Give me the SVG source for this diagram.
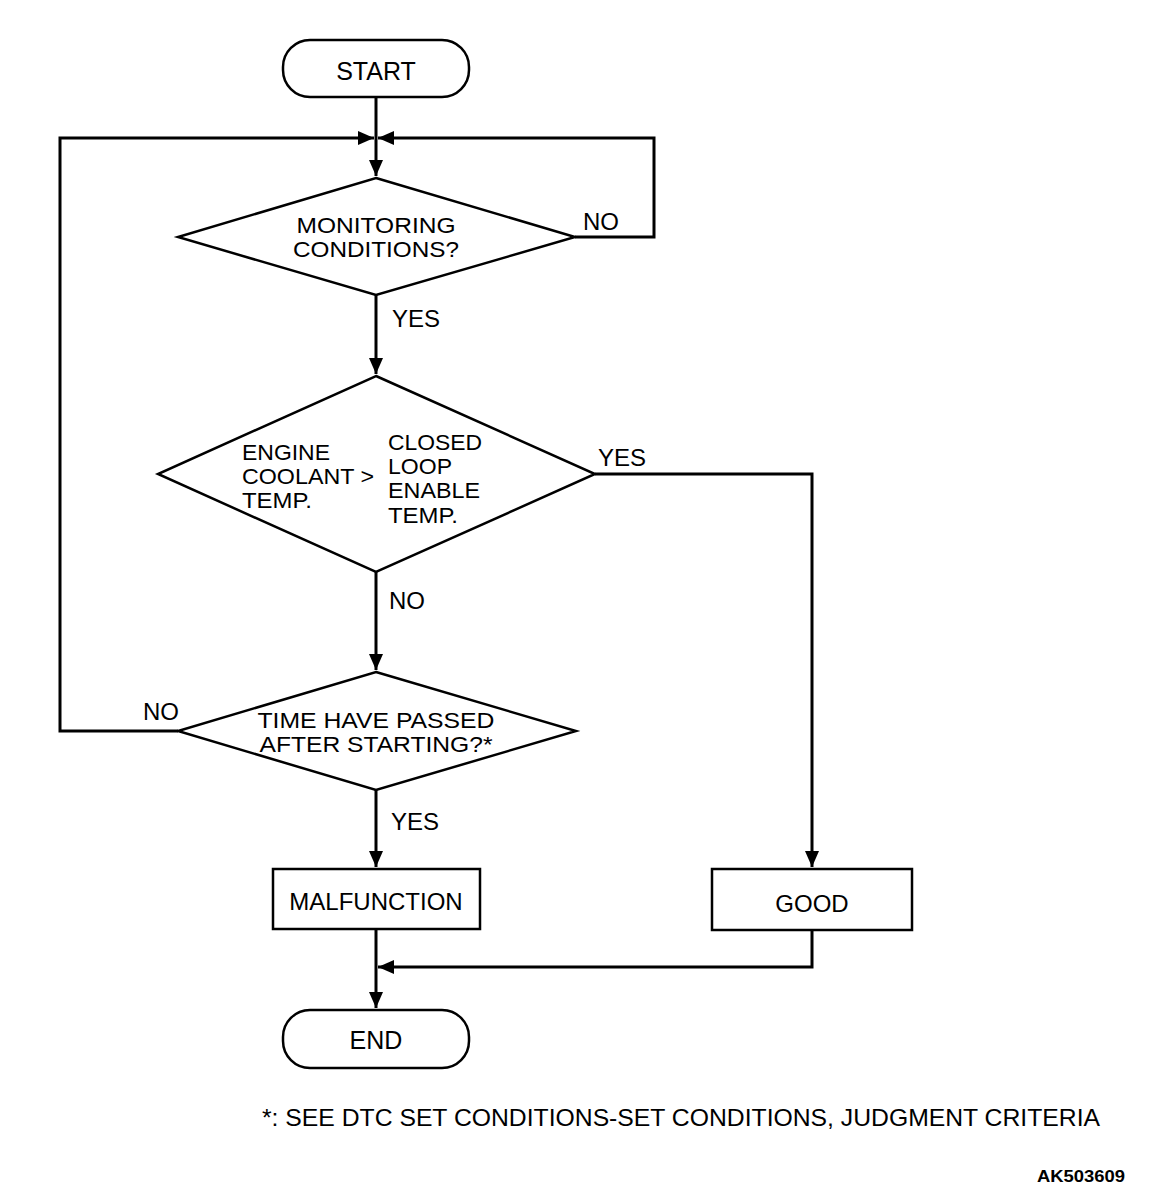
<svg xmlns="http://www.w3.org/2000/svg" width="1152" height="1202" viewBox="0 0 1152 1202">
<style>
text{font-family:"Liberation Sans",Arial,sans-serif;font-size:24px;fill:#000}
.m{font-size:21.5px}
.c{text-anchor:middle}
.shape{fill:#fff;stroke:#000;stroke-width:2.5}
.ln{fill:none;stroke:#000;stroke-width:3}
</style>
<defs>
<marker id="ah" markerUnits="userSpaceOnUse" markerWidth="18" markerHeight="14" refX="16" refY="7" orient="auto">
<path d="M0,0 L16,7 L0,14 Z" fill="#000"/>
</marker>
</defs>
<rect width="1152" height="1202" fill="#fff"/>
<g id="connectors">
<path class="ln" d="M376,97 V176" marker-end="url(#ah)"/>
<path class="ln" d="M575,237 H654 V138 H378" marker-end="url(#ah)"/>
<path class="ln" d="M178,731 H60 V138 H374" marker-end="url(#ah)"/>
<path class="ln" d="M376,295 V374" marker-end="url(#ah)"/>
<path class="ln" d="M595,474 H812 V867" marker-end="url(#ah)"/>
<path class="ln" d="M376,572 V670" marker-end="url(#ah)"/>
<path class="ln" d="M376,790 V867" marker-end="url(#ah)"/>
<path class="ln" d="M376,929 V1008" marker-end="url(#ah)"/>
<path class="ln" d="M812,930 V967 H378" marker-end="url(#ah)"/>
</g>
<g id="labels">
<text x="583" y="230">NO</text>
<text x="392" y="327">YES</text>
<text x="598" y="466">YES</text>
<text x="389" y="609">NO</text>
<text x="143" y="720">NO</text>
<text x="391" y="830">YES</text>
</g>
<g id="start">
<rect class="shape" x="283" y="40" width="186" height="57" rx="27" ry="27"/>
<text class="c" x="376" y="80" style="font-size:25px">START</text>
</g>
<g id="monitoring">
<polygon class="shape" points="376,178 575,237 376,295 178,237"/>
<text class="c m" x="376" y="233" textLength="159" lengthAdjust="spacingAndGlyphs">MONITORING</text>
<text class="c m" x="376" y="257" textLength="166" lengthAdjust="spacingAndGlyphs">CONDITIONS?</text>
</g>
<g id="coolant">
<polygon class="shape" points="376,376 595,474 376,572 158,474"/>
<text class="m" x="242" y="460" textLength="88" lengthAdjust="spacingAndGlyphs">ENGINE</text>
<text class="m" x="242" y="484" textLength="132" lengthAdjust="spacingAndGlyphs">COOLANT &gt;</text>
<text class="m" x="242" y="508" textLength="70" lengthAdjust="spacingAndGlyphs">TEMP.</text>
<text class="m" x="388" y="450" textLength="94" lengthAdjust="spacingAndGlyphs">CLOSED</text>
<text class="m" x="388" y="474" textLength="64" lengthAdjust="spacingAndGlyphs">LOOP</text>
<text class="m" x="388" y="498" textLength="92" lengthAdjust="spacingAndGlyphs">ENABLE</text>
<text class="m" x="388" y="523" textLength="70" lengthAdjust="spacingAndGlyphs">TEMP.</text>
</g>
<g id="time">
<polygon class="shape" points="376,672 576,731 376,790 178,731"/>
<text class="c m" x="376" y="728" textLength="237" lengthAdjust="spacingAndGlyphs">TIME HAVE PASSED</text>
<text class="c m" x="376" y="752" textLength="233" lengthAdjust="spacingAndGlyphs">AFTER STARTING?*</text>
</g>
<g id="malfunction">
<rect class="shape" x="273" y="869" width="207" height="60"/>
<text class="c" x="376" y="910">MALFUNCTION</text>
</g>
<g id="good">
<rect class="shape" x="712" y="869" width="200" height="61"/>
<text class="c" x="812" y="912">GOOD</text>
</g>
<g id="end">
<rect class="shape" x="283" y="1010" width="186" height="58" rx="27" ry="27"/>
<text class="c" x="376" y="1049" style="font-size:25px">END</text>
</g>
<g id="notes">
<text x="262" y="1126" textLength="838" lengthAdjust="spacingAndGlyphs">*: SEE DTC SET CONDITIONS-SET CONDITIONS, JUDGMENT CRITERIA</text>
<text x="1037" y="1182" textLength="88" lengthAdjust="spacingAndGlyphs" style="font-size:17px;font-weight:bold">AK503609</text>
</g>
</svg>
